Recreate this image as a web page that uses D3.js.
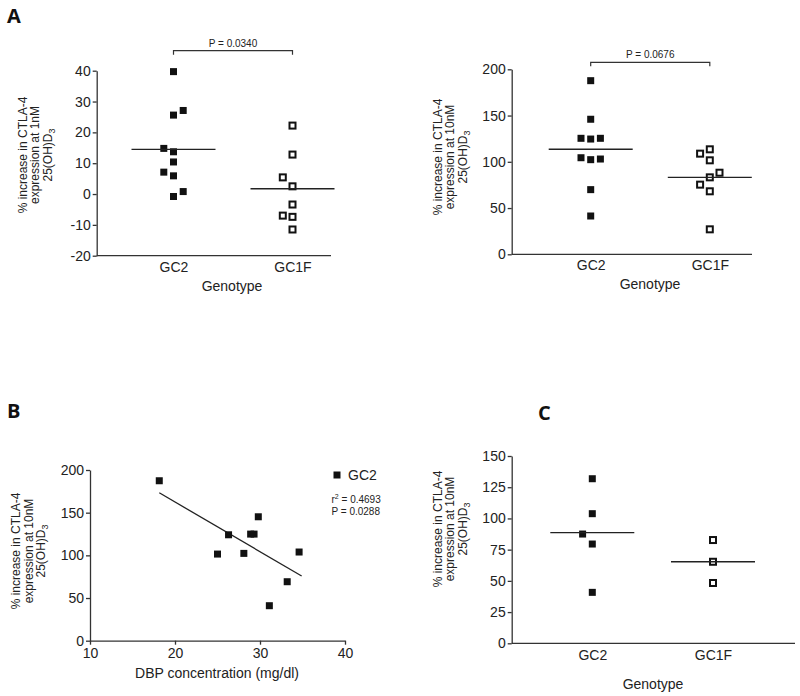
<!DOCTYPE html>
<html>
<head>
<meta charset="utf-8">
<script src="https://cdnjs.cloudflare.com/ajax/libs/d3/7.8.5/d3.min.js"></script>
<style>
  body { margin: 0; background: #fff; }
  text { font-family: "Liberation Sans", Arial, sans-serif; fill: #222; }
  text.panelLetter { font-family: "Open Sans", "Liberation Sans", sans-serif; font-weight: bold; font-size: 20px; fill: #111; }
  .tick text { font-size: 14px; fill: #222; }
  .tick line, .domain { stroke: #333; stroke-width: 1.3; }
  .axisTitle { font-size: 14px; }
  .yTitle { font-size: 12px; }
  .small { font-size: 10px; }
</style>
</head>
<body>
<svg id="figure" width="800" height="696"></svg>
<script>
// Categories
var genotypes = ["GC2", "GC1F"];

// Panel A left: % increase at 1nM 25(OH)D3
var gc2_1nM = [39.7, 27.1, 25.6, 14.8, 13.7, 10.4, 7.1, 5.9, 0.8, -0.8];
var gc2_1nM_slot = [0, 1, 0, -1, 0, 0, -1, 0, 1, 0];
var gc1f_1nM = [22.2, 12.8, 5.4, 2.5, -3.4, -7.0, -7.4, -11.5];
var gc1f_1nM_slot = [0, 0, -1, 0, 0, -1, 0, 0];
var median_1nM = [14.5, 1.7];
var ticks_1nM = [-20, -10, 0, 10, 20, 30, 40];

// Panel A right: % increase at 10nM 25(OH)D3
var gc2_10nM = [187.7, 146, 125.4, 124.6, 125.4, 104.4, 102.3, 103, 69.9, 41.4];
var gc2_10nM_slot = [0, 0, -1, 0, 1, -1, 0, 1, 0, 0];
var gc1f_10nM = [113.5, 108.8, 101.6, 88.2, 83.2, 75.3, 68.1, 27];
var gc1f_10nM_slot = [0, -1, 0, 1, 0, -1, 0, 0];
var median_10nM = [113.5, 83.2];
var ticks_10nM = [0, 50, 100, 150, 200];

// Panel B: DBP concentration vs % increase (GC2)
var dbpConc = [18.15, 25.0, 26.3, 28.1, 28.9, 29.3, 29.8, 31.1, 33.2, 34.6];
var dbpResp = [187.4, 101.5, 124.1, 102.3, 124.9, 124.9, 145.2, 41.0, 69.1, 103.9];
var fitX = [18.15, 34.9];
var fitY = [173.3, 75.8];
var ticksB_x = [10, 20, 30, 40];
var ticksB_y = [0, 50, 100, 150, 200];

// Panel C
var gc2_C = [131.8, 103.8, 87.5, 79.5, 40.8];
var gc2_C_slot = [0, 0, -1, 0, 0];
var gc1f_C = [82.7, 65.3, 48.3];
var gc1f_C_slot = [0, 0, 0];
var median_C = [88.6, 65.3];
var ticks_C = [0, 25, 50, 75, 100, 125, 150];

var svg = d3.select("#figure");
var plainFmt = d => String(d);

// scale for side-by-side placement of overlapping points
var slotScale = d3.scaleLinear().domain([-1, 1]).range([-9.7, 9.7]);

// three line rotated y title, baselines measured from the axis line
function yTitle(g, axisX, cy, line2) {
  var offs = [-70, -57.5, -45];
  var lines = ["% increase in CTLA-4", line2, "25(OH)D"];
  lines.forEach(function(txt, i) {
    var t = g.append("text")
      .attr("class", "yTitle")
      .attr("text-anchor", "middle")
      .attr("transform", `translate(${axisX + offs[i]}, ${cy}) rotate(-90)`)
      .text(txt);
    if (i == 2) {
      t.append("tspan").attr("font-size", "9px").attr("dy", 3).text("3");
    }
  });
}

function columnPanel(cfg) {
  var g = svg.append("g");
  var y = d3.scaleLinear().domain(cfg.domain).range([cfg.bottom, cfg.top]);
  var x = d3.scalePoint().domain(genotypes).range(cfg.cats);

  g.append("g")
    .attr("transform", `translate(${cfg.left}, 0)`)
    .call(d3.axisLeft(y).tickValues(cfg.ticks).tickFormat(plainFmt).tickSize(4).tickSizeOuter(0).tickPadding(2));

  // baseline
  g.append("line")
    .attr("x1", cfg.left).attr("x2", cfg.right)
    .attr("y1", cfg.bottom).attr("y2", cfg.bottom)
    .attr("stroke", "#333").attr("stroke-width", 1.3);

  var xa = g.append("g")
    .attr("transform", `translate(0, ${cfg.bottom})`)
    .call(d3.axisBottom(x).tickSize(0).tickPadding(cfg.tickPad));
  xa.select(".domain").remove();

  var groups = [
    { cat: "GC2", vals: cfg.gc2, slot: cfg.gc2Slot, open: false },
    { cat: "GC1F", vals: cfg.gc1f, slot: cfg.gc1fSlot, open: true }
  ];

  groups.forEach(function(grp) {
    g.selectAll(null)
      .data(grp.vals)
      .enter()
      .append("rect")
      .attr("x", (d, i) => x(grp.cat) + slotScale(grp.slot[i]) - (grp.open ? 3 : 3.5))
      .attr("y", d => y(d) - (grp.open ? 3 : 3.5))
      .attr("width", grp.open ? 6 : 7)
      .attr("height", grp.open ? 6 : 7)
      .attr("fill", grp.open ? "#fff" : "#111")
      .attr("stroke", grp.open ? "#111" : "none")
      .attr("stroke-width", 2);
  });

  // median lines
  g.selectAll(null)
    .data(cfg.median)
    .enter()
    .append("line")
    .attr("x1", (d, i) => x(genotypes[i]) - 42)
    .attr("x2", (d, i) => x(genotypes[i]) + 42)
    .attr("y1", d => y(d))
    .attr("y2", d => y(d))
    .attr("stroke", "#222")
    .attr("stroke-width", 1.4);

  // significance bracket
  if (cfg.pText) {
    var by = cfg.top - cfg.bracketGap;
    var x1 = x("GC2"), x2 = x("GC1F");
    g.append("path")
      .attr("d", `M${x1},${by + 4}V${by}H${x2}V${by + 4}`)
      .attr("fill", "none")
      .attr("stroke", "#333")
      .attr("stroke-width", 1.2);
    g.append("text")
      .attr("class", "small")
      .attr("text-anchor", "middle")
      .attr("x", (x1 + x2) / 2)
      .attr("y", by - 4)
      .text(cfg.pText);
  }

  g.append("text")
    .attr("class", "axisTitle")
    .attr("text-anchor", "middle")
    .attr("x", cfg.titleX)
    .attr("y", cfg.titleY)
    .text("Genotype");

  yTitle(g, cfg.left, cfg.titleMid, cfg.conc);
  return g;
}

// Panel A left
columnPanel({
  domain: [-20, 40], ticks: ticks_1nM, top: 70.7, bottom: 255.7,
  left: 96.7, right: 331, cats: [173.5, 292.5], tickPad: 6,
  gc2: gc2_1nM, gc2Slot: gc2_1nM_slot, gc1f: gc1f_1nM, gc1fSlot: gc1f_1nM_slot,
  median: median_1nM, pText: "P = 0.0340", bracketGap: 20,
  titleX: 232, titleY: 291, titleMid: 155, conc: "expression at 1nM"
});

// Panel A right
columnPanel({
  domain: [0, 200], ticks: ticks_10nM, top: 69.3, bottom: 254.3,
  left: 511.7, right: 752, cats: [590.7, 709.8], tickPad: 6,
  gc2: gc2_10nM, gc2Slot: gc2_10nM_slot, gc1f: gc1f_10nM, gc1fSlot: gc1f_10nM_slot,
  median: median_10nM, pText: "P = 0.0676", bracketGap: 7,
  titleX: 650, titleY: 289, titleMid: 157, conc: "expression at 10nM"
});

// Panel C
columnPanel({
  domain: [0, 150], ticks: ticks_C, top: 456, bottom: 643.3,
  left: 511.7, right: 795, cats: [592.3, 713], tickPad: 7,
  gc2: gc2_C, gc2Slot: gc2_C_slot, gc1f: gc1f_C, gc1fSlot: gc1f_C_slot,
  median: median_C, pText: null,
  titleX: 653, titleY: 689, titleMid: 529, conc: "expression at 10nM"
});

// Panel B scatter with regression line
var gB = svg.append("g");
var xB = d3.scaleLinear().domain([10, 40]).range([90, 345]);
var yB = d3.scaleLinear().domain([0, 200]).range([640.7, 470]);

gB.append("g")
  .attr("transform", "translate(90, 0)")
  .call(d3.axisLeft(yB).tickValues(ticksB_y).tickFormat(plainFmt).tickSize(4).tickSizeOuter(0).tickPadding(2));

gB.append("g")
  .attr("transform", "translate(0, 640.7)")
  .call(d3.axisBottom(xB).tickValues(ticksB_x).tickFormat(plainFmt).tickSize(4).tickSizeOuter(0).tickPadding(3));

gB.append("path")
  .datum(d3.zip(fitX, fitY))
  .attr("d", d3.line().x(d => xB(d[0])).y(d => yB(d[1])))
  .attr("fill", "none")
  .attr("stroke", "#222")
  .attr("stroke-width", 1.3);

gB.selectAll("rect.pt")
  .data(d3.zip(dbpConc, dbpResp))
  .enter()
  .append("rect")
  .attr("class", "pt")
  .attr("x", d => xB(d[0]) - 3.5)
  .attr("y", d => yB(d[1]) - 3.5)
  .attr("width", 7)
  .attr("height", 7)
  .attr("fill", "#111");

gB.append("text")
  .attr("class", "axisTitle")
  .attr("text-anchor", "middle")
  .attr("x", 217)
  .attr("y", 678)
  .text("DBP concentration (mg/dl)");

yTitle(gB, 90, 551, "expression at 10nM");

// legend and stats
gB.append("rect").attr("x", 333.5).attr("y", 471.5).attr("width", 7).attr("height", 7).attr("fill", "#111");
gB.append("text").attr("class", "axisTitle").attr("x", 348).attr("y", 480).text("GC2");
var r2 = gB.append("text").attr("class", "small").attr("x", 331.5).attr("y", 503).text("r");
r2.append("tspan").attr("font-size", "7px").attr("dy", -4).text("2");
r2.append("tspan").attr("dy", 4).text(" = 0.4693");
gB.append("text").attr("class", "small").attr("x", 331.5).attr("y", 514.5).text("P = 0.0288");

// panel letters
svg.append("text").attr("class", "panelLetter").attr("x", 7).attr("y", 23).text("A");
svg.append("text").attr("class", "panelLetter").attr("x", 7).attr("y", 418).text("B");
svg.append("text").attr("class", "panelLetter").attr("x", 538).attr("y", 420).text("C");
</script>
</body>
</html>
